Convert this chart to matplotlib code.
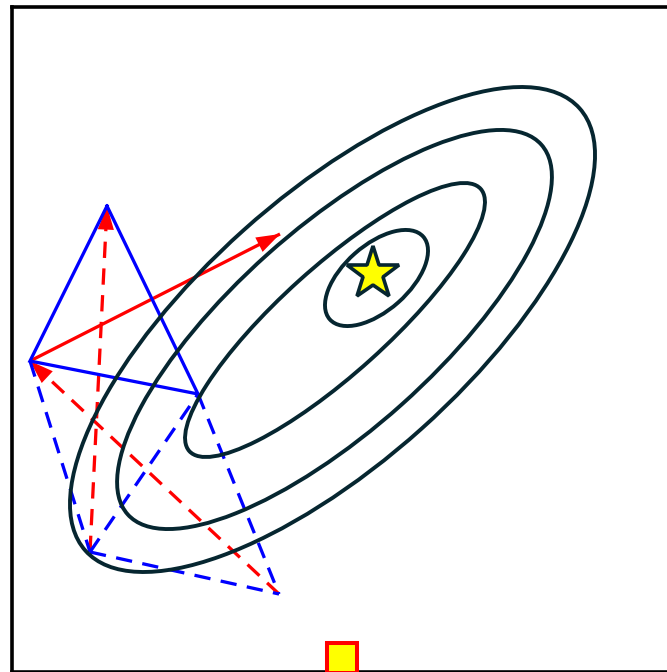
import numpy as np
import matplotlib
matplotlib.use("Agg")
import matplotlib.pyplot as plt
from matplotlib.patches import Ellipse, FancyArrowPatch

# ---- data (coordinates, y pointing up) ----
# simplex vertices
A = (107, 466)
B = (30, 311)
C = (198, 278)
# trial points
D = (90, 120)
E = (279, 78)
R = (280, 438)
# optimum and marker at the bottom
opt = (373.5, 398.5)
box = (342, 14)

# contour ellipses: centre x, centre y, semi-major, semi-minor, angle (deg)
ell_cx = [376.5, 335, 334.5, 332.5]
ell_cy = [394, 352, 342.5, 342.5]
ell_a = [62.4, 196, 277.4, 331.6]
ell_b = [32.7, 53.3, 100.7, 133.3]
ell_ang = [41.5, 42, 41.8, 41.85]

contour_color = "#062630"

fig = plt.figure(figsize=(6.67, 6.72), dpi=100)
W, H = 667, 672
left_px, right_px, top_px, bot_px = 11.7, 675, 7, 672
ax = fig.add_axes([left_px / W, (H - bot_px) / H,
                   (right_px - left_px) / W, (bot_px - top_px) / H])
ax.set_xlim(left_px, right_px)
ax.set_ylim(H - bot_px, H - top_px)
ax.set_xticks([])
ax.set_yticks([])
for s in ax.spines.values():
    s.set_linewidth(2.6)
    s.set_color("black")

red = "#ff0000"
blue = "#0000ff"
lw = 2.35
dash = (0, (5, 3.2))

def head(p_from, p_to, color):
    v = np.array(p_to, float) - np.array(p_from, float)
    u = v / np.linalg.norm(v)
    start = np.array(p_to) - u * 22
    ar = FancyArrowPatch(tuple(start), p_to,
                         arrowstyle="-|>,head_length=17,head_width=5.8",
                         mutation_scale=1, color=color, lw=0,
                         shrinkA=0, shrinkB=0, zorder=2)
    ax.add_patch(ar)

# red moves
ax.plot([B[0], R[0]], [B[1], R[1]], color=red, lw=lw, zorder=2,
        solid_capstyle="butt")
head(B, R, red)
ax.plot([E[0], B[0]], [E[1], B[1]], color=red, lw=lw, ls=dash, zorder=2)
head(E, B, red)
ax.plot([D[0], A[0]], [D[1], A[1]], color=red, lw=lw, ls=dash, zorder=2)
head(D, A, red)

# simplex
tri = [A, B, C, A]
ax.plot([p[0] for p in tri], [p[1] for p in tri], color=blue, lw=lw,
        zorder=3, solid_joinstyle="miter")
for p, q in [(B, D), (D, C), (C, E), (D, E)]:
    ax.plot([p[0], q[0]], [p[1], q[1]], color=blue, lw=lw, ls=dash, zorder=3)

# contours
for cx, cy, a, b, ang in zip(ell_cx, ell_cy, ell_a, ell_b, ell_ang):
    ax.add_patch(Ellipse((cx, cy), 2 * a, 2 * b, angle=ang, fill=False,
                         ec=contour_color, lw=2.8, zorder=4))

# optimum
ax.plot([opt[0]], [opt[1]], marker="*", ms=40, mfc="#ffff00",
        mec=contour_color, mew=2.6, zorder=5)

# bottom marker
ax.plot([box[0]], [box[1]], marker="s", ms=21.5, mfc="#ffff00",
        mec=red, mew=2.9, zorder=6, clip_on=False)

fig.savefig("out.png", dpi=100)
